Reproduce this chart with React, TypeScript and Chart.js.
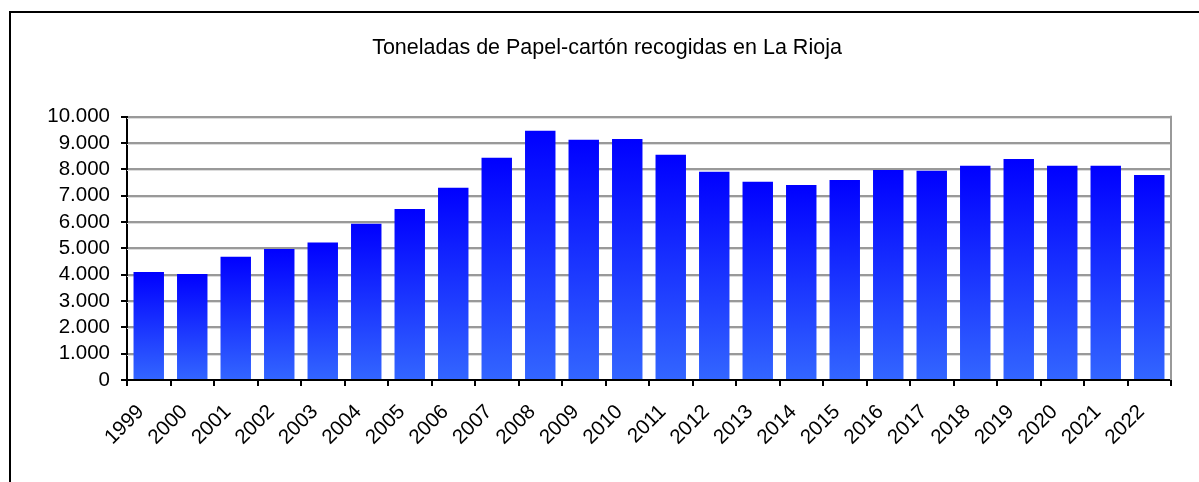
import React, { useEffect, useRef } from "react";
import { Chart, registerables } from "chart.js";

Chart.register(...registerables);

const TITLE = "Toneladas de Papel-cartón recogidas en La Rioja";
const YEARS = [
  "1999", "2000", "2001", "2002", "2003", "2004", "2005", "2006",
  "2007", "2008", "2009", "2010", "2011", "2012", "2013", "2014",
  "2015", "2016", "2017", "2018", "2019", "2020", "2021", "2022",
];
const TONNES = [
  4100, 4030, 4680, 4980, 5220, 5940, 6500, 7300,
  8440, 9470, 9130, 9160, 8560, 7910, 7530, 7410,
  7600, 7980, 7950, 8140, 8400, 8140, 8140, 7790,
];
const Y_MIN = 0;
const Y_MAX = 10000;
const Y_STEP = 1000;

const FONT = "'Liberation Sans', Arial, Helvetica, sans-serif";

const fmt = (v: number) => String(v).replace(/\B(?=(\d{3})+(?!\d))/g, ".");

const plotDecor = {
  id: "plotDecor",
  beforeDatasetsDraw(chart: any) {
    const { ctx, chartArea, scales } = chart;
    const y = scales.y;
    ctx.save();
    ctx.strokeStyle = "#dcdcdc";
    ctx.lineWidth = 1;
    for (let v = Y_STEP; v <= Y_MAX; v += Y_STEP) {
      const p = Math.round(y.getPixelForValue(v));
      ctx.beginPath();
      ctx.moveTo(chartArea.left, p + 1.5);
      ctx.lineTo(chartArea.right, p + 1.5);
      ctx.stroke();
    }
    ctx.strokeStyle = "#999999";
    ctx.lineWidth = 2;
    ctx.beginPath();
    ctx.moveTo(chartArea.right, chartArea.top - 1);
    ctx.lineTo(chartArea.right, chartArea.bottom);
    ctx.stroke();
    ctx.restore();
  },
};

export default function App() {
  const ref = useRef<HTMLCanvasElement | null>(null);

  useEffect(() => {
    if (!ref.current) return;
    const chart = new Chart(ref.current, {
      type: "bar",
      data: {
        labels: YEARS,
        datasets: [
          {
            data: TONNES,
            barPercentage: 0.7,
            categoryPercentage: 1,
            borderWidth: 0,
            backgroundColor: (c: any) => {
              const ch = c.chart;
              const { chartArea, scales } = ch;
              if (!chartArea || c.type !== "data" || !scales.y) return "#1a3cff";
              const top = scales.y.getPixelForValue(c.raw);
              const base = scales.y.getPixelForValue(0);
              const g = ch.ctx.createLinearGradient(0, top, 0, base);
              g.addColorStop(0, "#0000ff");
              g.addColorStop(1, "#3366ff");
              return g;
            },
          },
        ],
      },
      options: {
        responsive: false,
        animation: false,
        devicePixelRatio: 1,
        layout: { padding: { left: 43, right: 28, top: 0, bottom: 0 } },
        plugins: {
          legend: { display: false },
          tooltip: { enabled: false },
          title: {
            display: true,
            text: TITLE,
            color: "#000",
            font: { family: FONT, size: 21.5, weight: "normal" },
            padding: { top: 35, bottom: 56 },
          },
        },
        scales: {
          x: {
            afterFit: (s: any) => {
              s.height = 102;
            },
            grid: {
              drawOnChartArea: false,
              drawTicks: true,
              tickLength: 6,
              tickColor: "#000",
              lineWidth: 2,
              offset: true,
            },
            border: { display: true, color: "#000", width: 2 },
            ticks: {
              autoSkip: false,
              maxRotation: 45,
              minRotation: 45,
              padding: 14,
              labelOffset: -8,
              color: "#000",
              font: { family: FONT, size: 20.5 },
            },
          },
          y: {
            min: Y_MIN,
            max: Y_MAX,
            afterFit: (s: any) => {
              s.width = 84;
            },
            grid: {
              color: "#999999",
              lineWidth: 2,
              drawTicks: true,
              tickLength: 6,
              tickColor: "#000",
            },
            border: { display: true, color: "#000", width: 2 },
            ticks: {
              stepSize: Y_STEP,
              autoSkip: false,
              padding: 11,
              color: "#000",
              font: { family: FONT, size: 20.5 },
              callback: (v: any) => fmt(Number(v)),
            },
          },
        },
      },
      plugins: [plotDecor],
    });
    return () => chart.destroy();
  }, []);

  return (
    <div
      style={{
        position: "fixed",
        left: 0,
        top: 0,
        width: 1199,
        height: 482,
        overflow: "hidden",
        background: "#fff",
      }}
    >
      <div
        style={{
          position: "absolute",
          left: 9,
          top: 11,
          width: 1300,
          height: 600,
          border: "2px solid #000",
          boxSizing: "border-box",
        }}
      />
      <canvas
        ref={ref}
        width={1199}
        height={482}
        style={{ position: "absolute", left: 0, top: 0, width: 1199, height: 482 }}
      />
    </div>
  );
}
